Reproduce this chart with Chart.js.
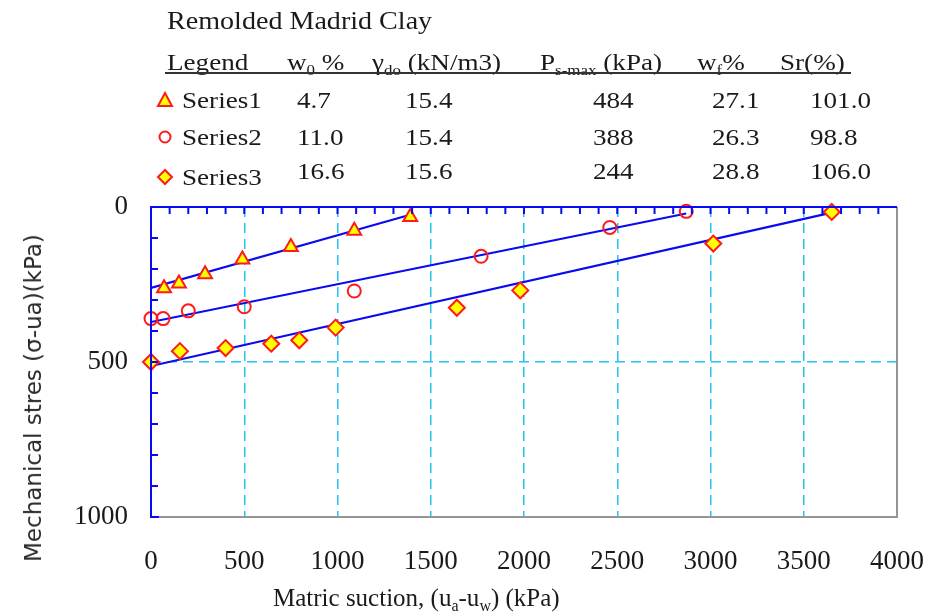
<!DOCTYPE html>
<html>
<head>
<meta charset="utf-8">
<script src="https://cdn.jsdelivr.net/npm/chart.js@4.4.0/dist/chart.umd.min.js"></script>
<style>
  body { margin: 0; background: #fff; }
  #wrap { position: relative; width: 930px; height: 616px; overflow: hidden;
          font-family: "Liberation Serif", "Times New Roman", serif; color: #1a1a1a; }
  #chart { position: absolute; left: 0; top: 0; }
  .txt { position: absolute; white-space: nowrap; font-size: 24px; line-height: 1;
         transform: scaleX(1.13); transform-origin: left center; }
  .txt sub { font-size: 15px; vertical-align: -5px; }
  #title { position: absolute; left: 167px; top: 8px; white-space: nowrap; font-size: 26px; line-height: 1;
           transform: scaleX(1.08); transform-origin: left center; }
  #underline { position: absolute; left: 165px; top: 72px; width: 686px; height: 2px; background: #333; }
  #ytitle { position: absolute; left: 33px; top: 398px; white-space: nowrap;
            font-family: "DejaVu Sans", sans-serif; font-size: 23px; color: #2a2a2a;
            transform: translate(-50%, -50%) rotate(-90deg); }
  #xtitle { position: absolute; left: 273px; top: 584px; white-space: nowrap; font-size: 25px; }
  #xtitle sub { font-size: 16px; vertical-align: -5px; }
  .mk { position: absolute; }
</style>
</head>
<body>
<div id="wrap">
  <canvas id="chart" width="930" height="616"></canvas>
  <div id="title">Remolded Madrid Clay</div>
  <div id="header"></div>
  <div id="underline"></div>
  <div id="ytitle">Mechanical stres (σ-ua)(kPa)</div>
  <div id="xtitle">Matric suction, (u<sub>a</sub>-u<sub>w</sub>) (kPa)</div>
</div>
<script>
// table shown above the plot
const seriesNames = ["Series1", "Series2", "Series3"];
const w0Values = ["4.7", "11.0", "16.6"];
const gammaValues = ["15.4", "15.4", "15.6"];
const psMaxValues = ["484", "388", "244"];
const wfValues = ["27.1", "26.3", "28.8"];
const srValues = ["101.0", "98.8", "106.0"];

// measured points: matric suction (kPa) vs mechanical stress (kPa)
const s1Suction = [70, 150, 290, 490, 750, 1090, 1390];
const s1Stress = [262, 247, 217, 169, 129, 77, 32];
const s2Suction = [0, 65, 200, 500, 1090, 1770, 2460, 2870];
const s2Stress = [360, 360, 335, 322, 271, 159, 66, 14];
const s3Suction = [0, 155, 400, 645, 795, 990, 1640, 1980, 3015, 3650];
const s3Stress = [500, 465, 455, 441, 430, 389, 325, 269, 118, 16];

// fitted lines, end points
const fit1Suction = [0, 1390];
const fit1Stress = [261, 25];
const fit2Suction = [0, 2870];
const fit2Stress = [371, 21];
const fit3Suction = [0, 3650];
const fit3Stress = [513, 18];

const xTicks = [0, 500, 1000, 1500, 2000, 2500, 3000, 3500, 4000];
const yTicks = [0, 500, 1000];

const RED = "#ff1a1a";
const YELLOW = "#ffff00";
const BLUE = "#0a0af0";
const GRID = "#22c4f0";

function pts(xs, ys) {
  return xs.map((x, i) => ({ x: x, y: ys[i] }));
}

// header + table rows as html text
const header = document.getElementById("header");
function addText(html, left, top) {
  const d = document.createElement("div");
  d.className = "txt";
  d.style.left = left + "px";
  d.style.top = top + "px";
  d.innerHTML = html;
  header.appendChild(d);
}
addText("Legend", 167, 50);
addText("w<sub>0</sub> %", 287, 50);
addText("γ<sub>do</sub> (kN/m3)", 372, 50);
addText("P<sub>s-max</sub> (kPa)", 540, 50);
addText("w<sub>f</sub>%", 697, 50);
addText("Sr(%)", 780, 50);

const rowTops = [88, 125, 159];
const nameShift = [0, 0, 6];
const markers = [
  '<svg width="18" height="18"><polygon points="9,2 16,15 2,15" fill="#ffff00" stroke="#ff1a1a" stroke-width="2"/></svg>',
  '<svg width="18" height="18"><circle cx="9" cy="9" r="5.5" fill="none" stroke="#ff1a1a" stroke-width="2"/></svg>',
  '<svg width="18" height="18"><polygon points="9,2 16,9 9,16 2,9" fill="#ffff00" stroke="#ff1a1a" stroke-width="2"/></svg>'
];
seriesNames.forEach((name, i) => {
  const top = rowTops[i];
  const m = document.createElement("div");
  m.className = "mk";
  m.style.left = "156px";
  m.style.top = (top + 3 + nameShift[i]) + "px";
  m.innerHTML = markers[i];
  header.appendChild(m);
  addText(name, 182, top + nameShift[i]);
  addText(w0Values[i], 297, top);
  addText(gammaValues[i], 405, top);
  addText(psMaxValues[i], 593, top);
  addText(wfValues[i], 712, top);
  addText(srValues[i], 810, top);
});

// frame: blue top/left with inward ticks, grey right/bottom
const framePlugin = {
  id: "frame",
  afterDatasetsDraw(chart) {
    const { ctx, chartArea: a, scales } = chart;
    ctx.save();
    ctx.lineWidth = 2;
    ctx.strokeStyle = "#959595";
    ctx.beginPath();
    ctx.moveTo(a.left, a.bottom);
    ctx.lineTo(a.right, a.bottom);
    ctx.lineTo(a.right, a.top);
    ctx.stroke();
    ctx.strokeStyle = BLUE;
    ctx.beginPath();
    ctx.moveTo(a.left + 8, a.bottom);
    ctx.lineTo(a.left, a.bottom);
    ctx.lineTo(a.left, a.top);
    ctx.lineTo(a.right, a.top);
    for (let v = 100; v < 4000; v += 100) {
      const px = scales.x.getPixelForValue(v);
      ctx.moveTo(px, a.top);
      ctx.lineTo(px, a.top + 7);
    }
    for (let v = 100; v < 1000; v += 100) {
      const py = scales.y.getPixelForValue(v);
      ctx.moveTo(a.left, py);
      ctx.lineTo(a.left + 7, py);
    }
    ctx.stroke();
    ctx.restore();
  }
};

const tickFont = { family: "'Liberation Serif', 'Times New Roman', serif", size: 27 };
const plain = (v) => String(v);

new Chart(document.getElementById("chart"), {
  type: "scatter",
  data: {
    datasets: [
      { label: "Series1", data: pts(s1Suction, s1Stress), pointStyle: "triangle", pointRadius: 8,
        backgroundColor: YELLOW, borderColor: RED, borderWidth: 2, clip: false, order: 1 },
      { label: "Series2", data: pts(s2Suction, s2Stress), pointStyle: "circle", pointRadius: 6.5,
        backgroundColor: "rgba(255,255,255,0)", borderColor: RED, borderWidth: 2, clip: false, order: 1 },
      { label: "Series3", data: pts(s3Suction, s3Stress), pointStyle: "rectRot", pointRadius: 8,
        backgroundColor: YELLOW, borderColor: RED, borderWidth: 2, clip: false, order: 1 },
      { type: "line", data: pts(fit1Suction, fit1Stress), borderColor: BLUE, borderWidth: 2.2,
        pointRadius: 0, fill: false, order: 2 },
      { type: "line", data: pts(fit2Suction, fit2Stress), borderColor: BLUE, borderWidth: 2.2,
        pointRadius: 0, fill: false, order: 2 },
      { type: "line", data: pts(fit3Suction, fit3Stress), borderColor: BLUE, borderWidth: 2.2,
        pointRadius: 0, fill: false, order: 2 }
    ]
  },
  options: {
    responsive: false,
    animation: false,
    layout: { padding: { top: 207, right: 33, bottom: 0, left: 0 } },
    plugins: { legend: { display: false }, tooltip: { enabled: false } },
    scales: {
      x: {
        type: "linear", min: 0, max: 4000,
        afterBuildTicks: (s) => { s.ticks = xTicks.map(v => ({ value: v })); },
        afterFit: (s) => { s.height = 99; },
        border: { display: false, dash: [10, 6] },
        grid: {
          drawTicks: true, tickLength: 29, tickColor: "rgba(0,0,0,0)", lineWidth: 1.5,
          color: (c) => (c.tick && c.tick.value > 0 && c.tick.value < 4000 ? GRID : "rgba(0,0,0,0)")
        },
        ticks: { color: "#1a1a1a", font: tickFont, padding: 0, maxRotation: 0, callback: plain }
      },
      y: {
        type: "linear", min: 0, max: 1000, reverse: true,
        afterBuildTicks: (s) => { s.ticks = yTicks.map(v => ({ value: v })); },
        afterFit: (s) => { s.width = 151; },
        border: { display: false, dash: [10, 6] },
        grid: {
          drawTicks: false, lineWidth: 1.5,
          color: (c) => (c.tick && c.tick.value === 500 ? GRID : "rgba(0,0,0,0)")
        },
        ticks: { color: "#1a1a1a", font: tickFont, padding: 23, callback: plain }
      }
    }
  },
  plugins: [framePlugin]
});
</script>
</body>
</html>
